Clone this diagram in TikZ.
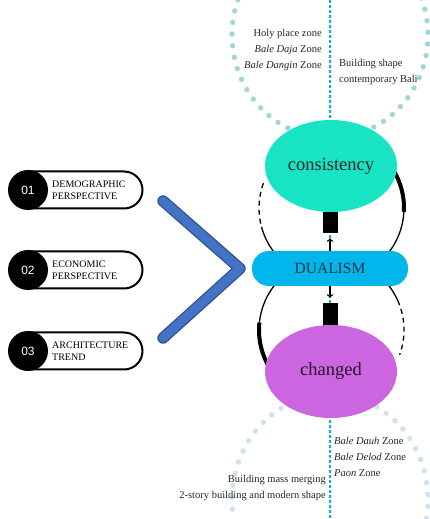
\documentclass[tikz,border=0pt]{standalone}
\usepackage{fontspec}
\setmainfont{Liberation Serif}
\newfontfamily\numfont{Liberation Sans}
\usetikzlibrary{positioning}
\usetikzlibrary{arrows,shapes}
\usetikzlibrary{calc}
\definecolor{consgreen}{RGB}{24,228,196}
\definecolor{dualblue}{RGB}{0,182,234}
\definecolor{dualtext}{RGB}{22,52,72}
\definecolor{chgpurple}{RGB}{204,102,224}
\definecolor{chevblue}{RGB}{68,114,196}
\definecolor{chevedge}{RGB}{47,82,143}
\definecolor{topdot}{RGB}{160,214,216}
\definecolor{botdot}{RGB}{205,226,242}
\definecolor{lineblue}{RGB}{0,176,240}
\tikzstyle{pill}=[rectangle,draw,line width=2pt,fill=white,rounded corners=18.5pt,minimum width=131pt,minimum height=37pt,inner sep=0pt]
\tikzstyle{numdot}=[circle,fill=black,minimum size=40pt,inner sep=0pt,text=white,font=\numfont\fontsize{12}{13}\selectfont]
\tikzstyle{pilltext}=[anchor=west,align=left,inner sep=0pt,font=\fontsize{10}{12}\selectfont]
\tikzstyle{zone}=[inner sep=0pt,font=\fontsize{10.5}{16}\selectfont,text=black!85]
\tikzstyle{ring}=[line width=1.3pt]
\tikzstyle{ringdash}=[line width=1.3pt,dash pattern=on 5pt off 4pt]
\tikzstyle{ringthick}=[line width=4pt]
\tikzstyle{bar}=[rectangle,fill=black,inner sep=0pt,minimum width=15pt]

\begin{document}
\begin{tikzpicture}[x=1pt,y=1pt]
\useasboundingbox (0,0) rectangle (430,519);

%dotted guides
\foreach \a in {160,166.5,...,381}
    \fill[topdot] (330,484) ++(\a:98 and 103) circle (2.7);
\foreach \a in {-10,-3.5,...,191}
    \fill[botdot] (330,19) ++(\a:98 and 106) circle (2.7);
\coordinate (vtop) at (330,519);
\coordinate (vbot) at (330,0);
\draw[lineblue,line width=2.7pt,dash pattern=on 2.7pt off 2.3pt] (vtop) -- (vbot);

%rings
\coordinate (upc) at (331.5,311);
\coordinate (loc) at (331.5,189);
\draw[ringdash] ([shift={(160:72.5)}]upc) arc[start angle=160,end angle=195,radius=72.5];
\draw[ring] ([shift={(195:72.5)}]upc) arc[start angle=195,end angle=222,radius=72.5];
\draw[ring] ([shift={(-40:72.5)}]upc) arc[start angle=-40,end angle=-3,radius=72.5];
\draw[ringthick] ([shift={(-3:72.5)}]upc) arc[start angle=-3,end angle=35,radius=72.5];
\draw[ring] ([shift={(138:72.5)}]loc) arc[start angle=138,end angle=174,radius=72.5];
\draw[ringthick] ([shift={(174:72.5)}]loc) arc[start angle=174,end angle=212,radius=72.5];
\draw[ring] ([shift={(42:72.5)}]loc) arc[start angle=42,end angle=24,radius=72.5];
\draw[ringdash] ([shift={(24:72.5)}]loc) arc[start angle=24,end angle=-20,radius=72.5];

%centre
\node[bar,minimum height=21pt] (topbar) at (330,296.5) {};
\node[bar,minimum height=23pt] (botbar) at (330,204.5) {};
\node[ellipse,fill=consgreen,minimum width=132pt,minimum height=92pt,inner sep=0pt,font=\fontsize{18.5}{20}\selectfont,text=black!85] (cons) at (331,353) {consistency};
\node[ellipse,fill=chgpurple,minimum width=132pt,minimum height=93pt,inner sep=0pt,font=\fontsize{18.5}{20}\selectfont,text=black!80!chgpurple] (chg) at (331,147.5) {changed};
\node[rectangle,fill=dualblue,rounded corners=17pt,minimum width=156pt,minimum height=35pt,inner sep=0pt,font=\fontsize{15.5}{17}\selectfont,text=dualtext] (dual) at (330,250.5) {DUALISM};
\draw[->,line width=1.3pt,shorten >=5pt] (dual.north) -- (topbar.south);
\draw[->,line width=1.3pt,shorten >=5pt] (dual.south) -- (botbar.north);

%chevron
\coordinate (chevtop) at (163,318);
\coordinate (chevtip) at (240,250.5);
\coordinate (chevbot) at (163,181);
\draw[chevedge,line width=11.5pt,line cap=round,line join=round] (chevtop) -- (chevtip) -- (chevbot);
\draw[chevblue,line width=9pt,line cap=round,line join=round] (chevtop) -- (chevtip) -- (chevbot);

%perspectives
\foreach \ypos/\num/\txt in {329/01/{DEMOGRAPHIC\\PERSPECTIVE}, 249/02/{ECONOMIC\\PERSPECTIVE}, 168/03/{ARCHITECTURE\\TREND}} {
    \node[pill] (pill\num) at (77,\ypos) {};
    \node[numdot] (num\num) at (28,\ypos) {\num};
    \node[pilltext] (lab\num) at (52,\ypos) {\txt};
}

%zones
\node[zone,anchor=east,align=right] (holytxt) at (322,469.5) {Holy place zone\\\textit{Bale Daja} Zone\\\textit{Bale Dangin} Zone};
\node[zone,anchor=west,align=left] (shapetxt) at (339,447) {Building shape\\contemporary Bali};
\node[zone,anchor=west,align=left] (dauhtxt) at (334,62) {\textit{Bale Dauh} Zone\\\textit{Bale Delod} Zone\\\textit{Paon} Zone};
\node[zone,anchor=east,align=right] (masstxt) at (326,31) {Building mass merging\\2-story building and modern shape};

\end{tikzpicture}
\end{document}
